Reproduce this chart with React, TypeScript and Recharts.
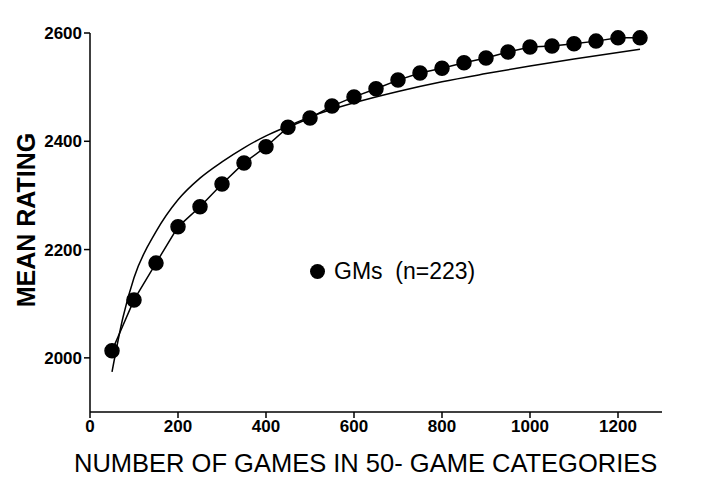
import React from "react";
import { ComposedChart, Line, XAxis, YAxis } from "recharts";

const gamesX = [50,100,150,200,250,300,350,400,450,500,550,600,650,700,750,800,850,900,950,1000,1050,1100,1150,1200,1250];
const meanRating = [2013,2107,2175,2242,2279,2321,2360,2390,2426,2443,2465,2482,2497,2513,2526,2535,2545,2554,2565,2574,2576,2580,2585,2591,2591];
const fitX = [50,75,100,150,200,250,300,350,400,450,500,600,700,800,900,1000,1100,1250];
const fitY = [1974,2075,2148,2233,2292,2332,2362,2388,2410,2428,2445,2471,2492,2510,2525,2539,2552,2570];
const xTicks = [0,200,400,600,800,1000,1200];
const yTicks = [2000,2200,2400,2600];

const points = gamesX.map((x, i) => ({ x, y: meanRating[i] }));
const fit = fitX.map((x, i) => ({ x, y: fitY[i] }));

export default function App() {
  const tick = { fill: "#000", fontSize: 17, fontWeight: 700, fontFamily: "Liberation Sans, Arial" };
  return (
    <div style={{ position: "relative", width: 720, height: 480, fontFamily: "Liberation Sans, Arial" }}>
      <ComposedChart width={720} height={480} margin={{ top: 25, right: 66, left: 10, bottom: 46 }}>
        <XAxis type="number" dataKey="x" domain={[0, 1300]} ticks={xTicks} tick={tick}
          stroke="#000" strokeWidth={1.5} tickSize={6} height={30} allowDuplicatedCategory={false} />
        <YAxis type="number" dataKey="y" domain={[1900, 2600]} ticks={yTicks} tick={tick}
          stroke="#000" strokeWidth={1.5} tickSize={6} width={72} />
        <Line data={fit} dataKey="y" type="monotone" stroke="#000" strokeWidth={1.5} dot={false} isAnimationActive={false} />
        <Line data={points} dataKey="y" type="linear" stroke="#000" strokeWidth={1.5}
          dot={{ r: 7, fill: "#000", stroke: "#000" }} isAnimationActive={false} />
      </ComposedChart>
      <div style={{ position: "absolute", left: 302, top: 250, display: "flex", alignItems: "center", fontSize: 23, whiteSpace: "pre" }}>
        <span style={{ display: "inline-block", width: 15, height: 15, borderRadius: 8, background: "#000", marginRight: 9 }} />
        {"GMs  (n=223)"}
      </div>
      <div style={{ position: "absolute", left: 66, top: 441, fontSize: 25.5, whiteSpace: "nowrap" }}>
        NUMBER OF GAMES IN 50- GAME CATEGORIES
      </div>
      <div style={{ position: "absolute", left: 18, top: 212, transform: "translate(-50%,-50%) rotate(-90deg)", fontSize: 25, fontWeight: 700, whiteSpace: "nowrap" }}>
        MEAN RATING
      </div>
    </div>
  );
}
